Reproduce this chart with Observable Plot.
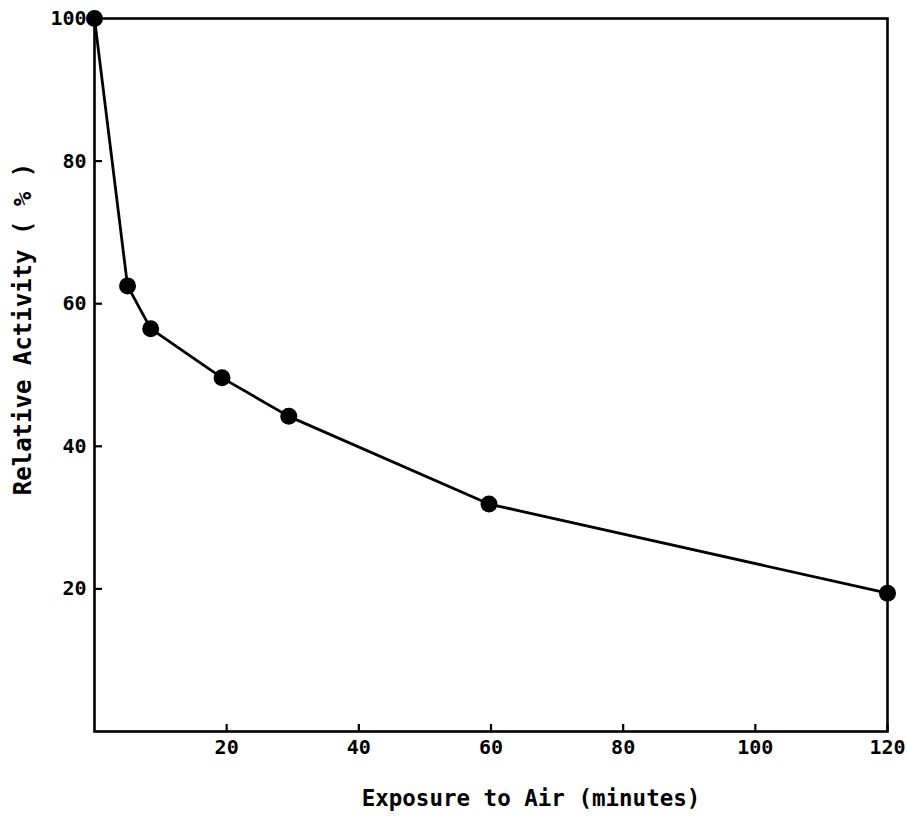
<!DOCTYPE html>
<html>
<head>
<meta charset="utf-8">
<script src="https://cdn.jsdelivr.net/npm/d3@7"></script>
<script src="https://cdn.jsdelivr.net/npm/@observablehq/plot@0.6"></script>
<style>
  html, body { margin: 0; padding: 0; background: #fff; }
  svg { display: block; }
</style>
</head>
<body>
<div id="chart"></div>
<script>
// Exposure time (minutes) and relative activity (%)
const minutes = [0, 5, 8.5, 19.3, 29.4, 59.7, 120];
const activity = [100, 62.5, 56.5, 49.6, 44.2, 31.9, 19.4];
const xTicks = [20, 40, 60, 80, 100, 120];
const yTicks = [20, 40, 60, 80, 100];
const xTitle = "Exposure to Air (minutes)";
const yTitle = "Relative Activity ( % )";

const data = minutes.map((m, i) => ({minutes: m, activity: activity[i]}));
const font = "'DejaVu Sans Mono', monospace";

const W = 907, H = 819, ML = 94, MR = 20, MT = 18, MB = 88;
const innerW = W - ML - MR, innerH = H - MT - MB;

const chart = Plot.plot({
  width: W,
  height: H,
  marginLeft: ML,
  marginRight: MR,
  marginTop: MT,
  marginBottom: MB,
  style: {fontFamily: font, fontWeight: "bold", color: "#000", background: "#fff"},
  x: {domain: [0, 120]},
  y: {domain: [0, 100]},
  marks: [
    Plot.frame({stroke: "#000", strokeWidth: 2.6}),
    // inward tick marks
    Plot.tickX(xTicks, {x: d => d, stroke: "#000", strokeWidth: 2.2, insetTop: innerH - 7}),
    Plot.tickY(yTicks, {y: d => d, stroke: "#000", strokeWidth: 2.2, insetRight: innerW - 8}),
    Plot.axisX(xTicks, {tickSize: 0, tickPadding: 8, fontSize: 20, fontWeight: "bold", stroke: "#000", strokeWidth: 0.6, label: null}),
    Plot.axisY(yTicks, {tickSize: 0, tickPadding: 8, fontSize: 20, fontWeight: "bold", stroke: "#000", strokeWidth: 0.6, label: null}),
    Plot.text([xTitle], {frameAnchor: "bottom", textAnchor: "middle", dx: 40, dy: 74, fontSize: 22.5, fontWeight: "bold", fill: "#000"}),
    Plot.text([yTitle], {frameAnchor: "left", textAnchor: "middle", rotate: -90, dx: -71, dy: -46, fontSize: 24, fontWeight: "bold", fill: "#000"}),
    Plot.line(data, {x: "minutes", y: "activity", stroke: "#000", strokeWidth: 2.8}),
    Plot.dot(data, {x: "minutes", y: "activity", r: 8.5, fill: "#000", stroke: "none"})
  ]
});
document.getElementById("chart").append(chart);
</script>
</body>
</html>
